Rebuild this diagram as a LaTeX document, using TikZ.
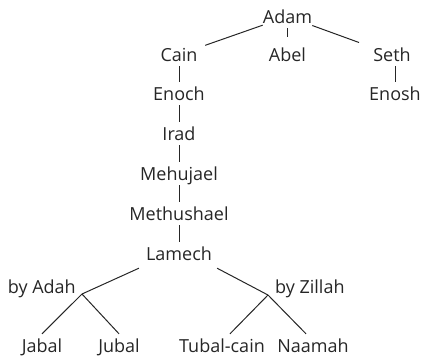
\documentclass[tikz,border=0pt]{standalone}
\usepackage{fontspec}
\setmainfont{Open Sans}
\begin{document}
\begin{tikzpicture}[x=1pt,y=-1pt,
  person/.style={anchor=base,inner sep=0pt,text height=18pt,text depth=5pt,font=\fontsize{18}{20}\selectfont,text=black!85},
  lbl/.style={inner sep=0pt,font=\fontsize{18}{20}\selectfont,text=black!85},
  link/.style={line width=1pt,draw=black!85}]
\useasboundingbox (0,0) rectangle (423,359);
\node[person] (adam) at (287.5,23) {Adam};
\node[person] (cain) at (179,61) {Cain};
\node[person] (abel) at (287.5,61) {Abel};
\node[person] (seth) at (392,61) {Seth};
\node[person] (enoch) at (179,100) {Enoch};
\node[person] (enosh) at (395,100) {Enosh};
\node[person] (irad) at (179,140) {Irad};
\node[person] (mehujael) at (179,180) {Mehujael};
\node[person] (methushael) at (179,220) {Methushael};
\node[person] (lamech) at (179,260) {Lamech};
\coordinate (ja) at (82,294);
\coordinate (jz) at (268,295);
\node[lbl,anchor=base east] (adah) at (76,293) {by Adah};
\node[lbl,anchor=base west] (zillah) at (275,293) {by Zillah};
\node[person] (jabal) at (42,352) {Jabal};
\node[person] (jubal) at (119,352) {Jubal};
\node[person] (tubal) at (222,352) {Tubal-cain};
\node[person] (naamah) at (313,352) {Naamah};
\draw[link,shorten >=8pt] (adam) -- (cain);
\draw[link,shorten >=6pt] (adam.south) -- (abel.north);
\draw[link,shorten >=15pt] (adam) -- (seth);
\draw[link] (cain) -- (enoch);
\draw[link] (enosh.north |- seth.south) -- (enosh.north);
\draw[link] (enoch) -- (irad);
\draw[link] (irad) -- (mehujael);
\draw[link] (mehujael) -- (methushael);
\draw[link] (methushael) -- (lamech);
\draw[link] ([xshift=-7pt,yshift=-3pt]lamech.south west) -- (ja);
\draw[link] ([xshift=5pt,yshift=-3pt]lamech.south east) -- (jz);
\draw[link] (ja) -- (jabal.north);
\draw[link] (ja) -- (jubal.north);
\draw[link] (jz) -- ([xshift=8pt]tubal.north);
\draw[link] (jz) -- ([xshift=-7pt]naamah.north);
\end{tikzpicture}
\end{document}
